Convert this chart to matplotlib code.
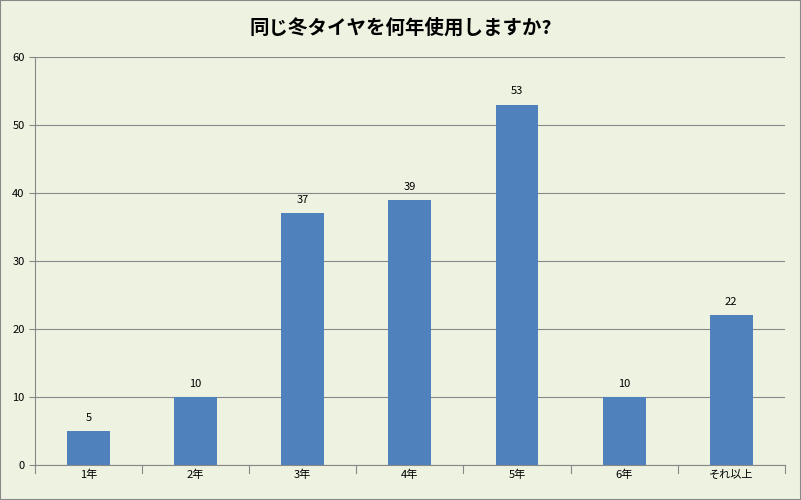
import matplotlib
matplotlib.use("Agg")
import matplotlib.pyplot as plt

plt.rcParams['font.family'] = ['Noto Sans CJK JP', 'DejaVu Sans']

categories = ["1年", "2年", "3年", "4年", "5年", "6年", "それ以上"]
values = [5, 10, 37, 39, 53, 10, 22]

bg = "#EEF2E1"
fig = plt.figure(figsize=(8.01, 5.00), dpi=100, facecolor=bg)
fig.patches.append(plt.Rectangle((0, 0), 1, 1, transform=fig.transFigure,
                                 fill=False, edgecolor="#888888", lw=1.5))
ax = fig.add_axes([0.0437, 0.07, 0.936, 0.816], facecolor=bg)
x = range(len(categories))
ax.bar(x, values, width=0.4, color="#4F81BD", zorder=3)
for i, v in zip(x, values):
    ax.text(i, v + 1.2, str(v), ha="center", va="bottom", fontsize=8)
ax.set_xlim(-0.5, len(categories) - 0.5)
ax.set_ylim(0, 60)
ax.set_yticks(range(0, 61, 10))
ax.set_xticks(list(x))
ax.set_xticklabels(categories, fontsize=8)
ax.tick_params(axis='y', labelsize=8, length=4, color="#888888")
ax.tick_params(axis='x', length=0)
for t in [i + 0.5 for i in range(-1, len(categories))]:
    ax.plot([t, t], [0, -1.2], color="#888888", lw=0.8, clip_on=False)
ax.yaxis.grid(True, color="#888888", lw=0.8, zorder=0)
for s in ["top", "right"]:
    ax.spines[s].set_visible(False)
ax.spines["left"].set_color("#888888")
ax.spines["bottom"].set_color("#888888")
fig.text(0.5, 0.945, "同じ冬タイヤを何年使用しますか?", ha="center", va="center",
         fontsize=14, fontweight="bold")
fig.savefig("out.png", dpi=100, facecolor=bg)
